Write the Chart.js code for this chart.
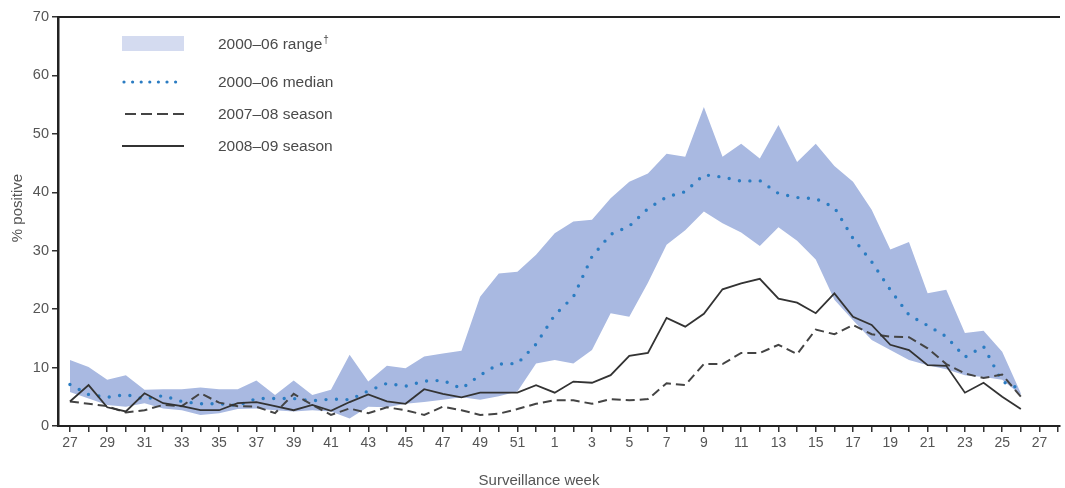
<!DOCTYPE html>
<html>
<head>
<meta charset="utf-8">
<script src="https://cdn.jsdelivr.net/npm/chart.js@4/dist/chart.umd.min.js"></script>
<style>
  html, body { margin: 0; padding: 0; background: #fff; }
  #wrap { width: 1065px; height: 488px; }
</style>
</head>
<body>
<div id="wrap"><canvas id="c" width="1065" height="488"></canvas></div>
<script>
// Surveillance weeks: week 27 of one year through week 27 of the next
const weekLabels = ['27','28','29','30','31','32','33','34','35','36','37','38','39','40',
  '41','42','43','44','45','46','47','48','49','50','51','52',
  '1','2','3','4','5','6','7','8','9','10','11','12','13','14','15','16','17','18',
  '19','20','21','22','23','24','25','26','27'];

// 2000–06 range, upper and lower edge (% positive)
const rangeUpper = [11.3,10.1,7.9,8.7,6.2,6.3,6.3,6.6,6.3,6.3,7.8,5.3,7.8,5.3,6.2,12.2,
  7.6,10.3,9.9,11.9,12.4,12.9,22.1,26.1,26.4,29.3,33.0,35.0,35.3,39.0,41.8,43.2,
  46.6,46.1,54.6,46.1,48.3,45.8,51.5,45.2,48.3,44.5,41.8,37.0,30.2,31.5,22.7,23.3,
  15.9,16.3,12.7,5.6,null];
const rangeLower = [5.8,4.7,3.6,3.3,3.9,3.0,2.7,1.9,2.2,2.9,3.0,2.7,2.5,2.7,2.5,1.3,
  3.3,3.2,3.8,4.1,4.5,4.9,4.5,5.1,5.9,10.7,11.3,10.7,13.0,19.3,18.7,24.5,
  31.0,33.5,36.7,34.7,33.1,30.8,34.0,31.7,28.5,21.6,18.1,14.7,13.0,11.3,10.4,9.7,
  8.7,8.4,7.9,5.3,null];

// 2000–06 median
const median0006 = [7.1,5.4,4.9,5.4,4.6,5.2,4.2,3.8,3.8,3.5,4.7,4.7,4.7,4.3,4.6,4.5,
  6.0,7.3,6.8,7.7,7.8,6.4,8.7,10.6,10.7,14.0,19.0,22.1,29.0,32.8,34.2,37.2,
  39.2,40.1,43.0,42.6,41.9,42.0,39.8,39.1,38.9,37.4,32.1,28.1,23.3,19.0,17.2,15.3,
  11.8,13.6,7.6,6.3,null];

// 2007–08 season
const season0708 = [4.2,3.8,3.4,2.3,2.7,3.6,3.4,5.6,4.0,3.4,3.3,2.2,5.5,3.6,1.9,3.0,
  2.2,3.2,2.7,1.9,3.3,2.7,1.9,2.1,2.9,3.8,4.4,4.4,3.8,4.6,4.4,4.6,
  7.3,7.0,10.6,10.6,12.5,12.5,13.9,12.3,16.5,15.7,17.3,15.7,15.3,15.2,13.3,10.6,
  9.0,8.2,8.8,5.0,null];

// 2008–09 season
const season0809 = [4.2,7.0,3.2,2.5,5.6,3.9,3.4,2.7,2.7,3.9,4.1,3.4,2.7,3.6,2.6,4.1,
  5.4,4.2,3.8,6.3,5.5,4.9,5.7,5.7,5.7,7.0,5.7,7.6,7.4,8.7,12.0,12.5,
  18.5,17.0,19.2,23.4,24.4,25.2,21.8,21.1,19.3,22.7,18.7,17.3,13.9,13.0,10.4,10.3,
  5.7,7.4,5.0,2.9,null];

const yTickValues = [0, 10, 20, 30, 40, 50, 60, 70];
const legendLabels = ['2000–06 range', '2000–06 median', '2007–08 season', '2008–09 season'];
const legendMark = '†';
const xTitle = 'Surveillance week';
const yTitle = '% positive';

const FONT = "'Liberation Sans', Arial, Helvetica, sans-serif";
const TEXT = '#555';
const AXIS = '#222';
const BAND = '#a9b9e1';
const BAND_KEY = '#d4dbf0';
const MEDIAN = '#2b7cc2';
const DASHED = '#444';
const SOLID = '#333';

const toPoints = arr => arr.map((v, i) => ({ x: i, y: v }));

// Frame line along the top, axis titles and the in-plot key
const decorations = {
  id: 'decorations',
  afterDraw(chart) {
    const { ctx, chartArea: a } = chart;
    ctx.save();
    // top frame
    ctx.strokeStyle = AXIS;
    ctx.lineWidth = 2;
    ctx.beginPath();
    ctx.moveTo(a.left - 1, a.top);
    ctx.lineTo(a.right, a.top);
    ctx.stroke();

    // axis titles
    ctx.fillStyle = TEXT;
    ctx.font = '15px ' + FONT;
    ctx.textAlign = 'center';
    ctx.textBaseline = 'middle';
    ctx.fillText(xTitle, 539, 481);
    ctx.save();
    ctx.translate(18, 208);
    ctx.rotate(-Math.PI / 2);
    ctx.fillText(yTitle, 0, 0);
    ctx.restore();

    // key
    const x0 = 122, x1 = 184, tx = 218;
    const rows = [44, 82, 114, 146];
    ctx.fillStyle = BAND_KEY;
    ctx.fillRect(x0, 36, x1 - x0, 15);

    ctx.lineCap = 'round';
    ctx.strokeStyle = MEDIAN;
    ctx.lineWidth = 3.2;
    ctx.setLineDash([0, 8.6]);
    ctx.beginPath(); ctx.moveTo(x0 + 2, rows[1]); ctx.lineTo(x1, rows[1]); ctx.stroke();

    ctx.lineCap = 'butt';
    ctx.strokeStyle = DASHED;
    ctx.lineWidth = 2.2;
    ctx.setLineDash([11, 5]);
    ctx.beginPath(); ctx.moveTo(x0 + 3, rows[2]); ctx.lineTo(x1, rows[2]); ctx.stroke();

    ctx.setLineDash([]);
    ctx.strokeStyle = SOLID;
    ctx.lineWidth = 2.2;
    ctx.beginPath(); ctx.moveTo(x0, rows[3]); ctx.lineTo(x1, rows[3]); ctx.stroke();

    ctx.fillStyle = '#4a4a4a';
    ctx.font = '15.5px ' + FONT;
    ctx.textAlign = 'left';
    ctx.textBaseline = 'middle';
    legendLabels.forEach((t, i) => ctx.fillText(t, tx, rows[i] + 1));
    const w = ctx.measureText(legendLabels[0]).width;
    ctx.font = '10px ' + FONT;
    ctx.fillText(legendMark, tx + w + 1, rows[0] - 4);
    ctx.restore();
  }
};

new Chart(document.getElementById('c'), {
  type: 'line',
  data: {
    datasets: [
      { label: legendLabels[3], data: toPoints(season0809), borderColor: SOLID, borderWidth: 1.8,
        pointRadius: 0, fill: false, tension: 0 },
      { label: legendLabels[2], data: toPoints(season0708), borderColor: DASHED, borderWidth: 2,
        borderDash: [9, 5], pointRadius: 0, fill: false, tension: 0 },
      { label: legendLabels[1], data: toPoints(median0006), borderColor: MEDIAN, borderWidth: 3.4,
        borderDash: [0, 10.5], borderCapStyle: 'round', pointRadius: 0, fill: false, tension: 0 },
      { label: legendLabels[0], data: toPoints(rangeUpper), borderWidth: 0, borderColor: BAND,
        backgroundColor: BAND, pointRadius: 0, fill: '+1', tension: 0 },
      { label: 'range-lower', data: toPoints(rangeLower), borderWidth: 0, borderColor: BAND,
        backgroundColor: BAND, pointRadius: 0, fill: false, tension: 0 }
    ]
  },
  options: {
    responsive: false,
    animation: false,
    devicePixelRatio: 1,
    layout: { padding: { top: 17, right: 5, left: 0, bottom: 0 } },
    plugins: { legend: { display: false }, tooltip: { enabled: false } },
    scales: {
      x: {
        type: 'linear',
        min: -0.64,
        max: 53.1,
        afterFit(scale) { scale.height = 62; },
        border: { display: true, color: AXIS, width: 2 },
        grid: { display: true, drawOnChartArea: false, drawTicks: true, tickLength: 6, color: '#333', lineWidth: 1.5 },
        ticks: {
          stepSize: 1,
          includeBounds: false,
          autoSkip: false,
          maxRotation: 0,
          minRotation: 0,
          padding: 3,
          color: TEXT,
          font: { family: FONT, size: 14 },
          callback(value) {
            const i = Math.round(value);
            return (i >= 0 && i < weekLabels.length && i % 2 === 0) ? weekLabels[i] : '';
          }
        }
      },
      y: {
        min: 0,
        max: 70,
        afterFit(scale) { scale.width = 58; },
        afterBuildTicks(scale) { scale.ticks = yTickValues.map(v => ({ value: v })); },
        border: { display: true, color: AXIS, width: 2.5 },
        grid: { display: true, drawOnChartArea: false, drawTicks: true, tickLength: 6, color: '#333', lineWidth: 1.5 },
        ticks: { padding: 3, color: TEXT, font: { family: FONT, size: 14.5 } }
      }
    }
  },
  plugins: [decorations]
});
</script>
</body>
</html>
